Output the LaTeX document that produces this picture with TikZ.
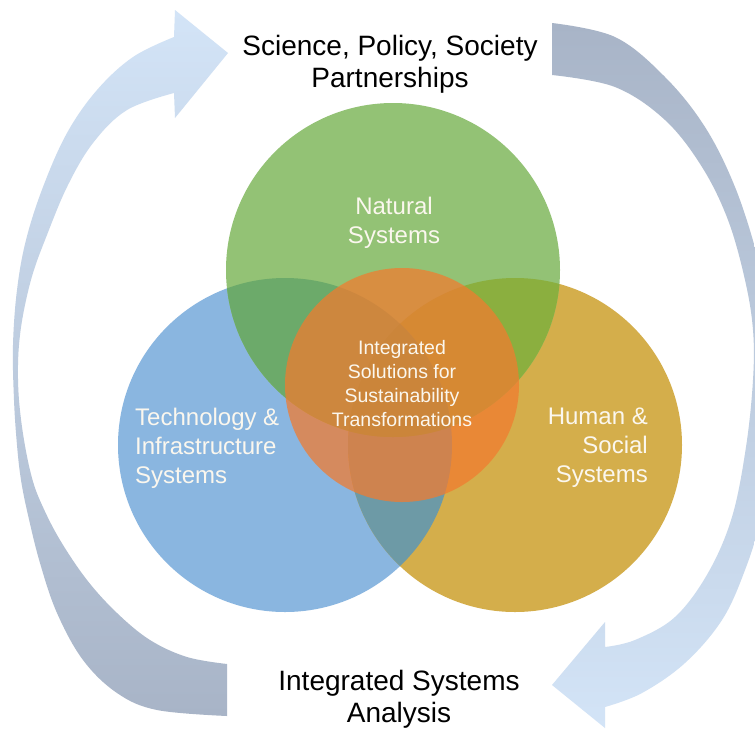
\documentclass[tikz,border=0pt]{standalone}
\usepackage{fontspec}
\setmainfont{Liberation Sans}
\definecolor{cblue}{HTML}{8AB6E0}
\definecolor{cgold}{HTML}{D4AE4B}
\definecolor{cgreen}{HTML}{93C275}
\definecolor{cbg}{HTML}{6D9AA6}
\definecolor{cbgr}{HTML}{6CAA6A}
\definecolor{cggold}{HTML}{8BAF3F}
\definecolor{ctriple}{HTML}{62A058}
\definecolor{corange}{RGB}{242,123,47}
\definecolor{labcol}{HTML}{FBF7EE}
\definecolor{arrlight}{HTML}{D3E4F7}
\definecolor{arrmid}{HTML}{B6CFEE}
\definecolor{arrdark}{HTML}{A8B4C7}
\definecolor{arrmidR}{HTML}{9CB8DE}
\begin{document}
\begin{tikzpicture}[x=1pt,y=-1pt,
  outerlab/.style={font=\fontsize{28}{32}\selectfont, text=black, align=center, inner sep=0pt},
  circlab/.style={font=\fontsize{24}{29}\selectfont, text=labcol, inner sep=0pt},
  centlab/.style={font=\fontsize{19.5}{24}\selectfont, text=labcol, align=center, inner sep=0pt}]
\useasboundingbox (0,0) rectangle (755,729);
\clip (0,0) rectangle (755,729);
\fill[white] (0,0) rectangle (755,729);

% curved arrows
\shade[top color=arrlight, middle color=arrmid, bottom color=arrdark]
  plot[smooth, tension=0.6] coordinates {(227,664) (187,657) (150,640) (117,613) (87,580) (60,540) (42,505) (32,478) (24,440) (19,400) (18,365) (20,335) (25,305) (33,273) (45,240) (67,187) (93,143) (127,110) (174,93)}
  -- (175,118) -- (228,53) -- (175,10) --
  plot[smooth, tension=0.6] coordinates {(174,37) (133,57) (97,90) (67,133) (43,187) (26,240) (17,290) (13,345) (14,400) (17,445) (21,480) (28,515) (40,563) (57,613) (83,660) (117,693) (157,710) (227,716)}
  -- cycle;
\shade[top color=arrdark, middle color=arrmidR, bottom color=arrlight]
  plot[smooth, tension=0.6] coordinates {(552,75) (615,87) (665,120) (702,167) (728,220) (745,280) (753,330) (753,380) (746,447) (732,517) (708,573) (675,617) (635,640) (605,647)}
  -- (605,622) -- (552,685) -- (605,728) --
  plot[smooth, tension=0.6] coordinates {(605,707) (642,693) (685,663) (722,620) (745,570) (760,520) (770,450) (772,380) (768,310) (757,255) (735,187) (705,127) (665,77) (615,37) (552,23)}
  -- cycle;

% circles
\fill[cblue] (285,445) circle[radius=167];
\fill[cgold] (515,445) circle[radius=167];
\fill[cgreen] (393,270) circle[radius=167];
\begin{scope}
  \clip (515,445) circle[radius=167];
  \fill[cggold] (393,270) circle[radius=167];
\end{scope}
\begin{scope}
  \clip (285,445) circle[radius=167];
  \fill[cbg] (515,445) circle[radius=167];
  \fill[cbgr] (393,270) circle[radius=167];
  \clip (515,445) circle[radius=167];
  \fill[ctriple] (393,270) circle[radius=167];
\end{scope}
\fill[corange, opacity=0.73] (402,385) circle[radius=117];

% labels
\node[outerlab] (spsp) at (390,64) {Science, Policy, Society\\Partnerships};
\node[outerlab] (isa) at (399,699) {Integrated Systems\\Analysis};
\node[circlab, align=center] (nat) at (394,223) {Natural\\Systems};
\node[circlab, align=left, anchor=west] (tech) at (135,448) {Technology \&\\Infrastructure\\Systems};
\node[circlab, align=right, anchor=east] (hum) at (648,448) {Human \&\\Social\\Systems};
\node[centlab] (integ) at (402,384) {Integrated\\Solutions for\\Sustainability\\Transformations};
\end{tikzpicture}
\end{document}
